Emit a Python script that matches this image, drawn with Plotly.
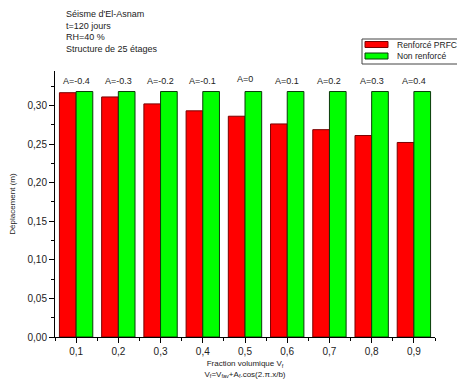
import plotly.graph_objects as go

fractions = [0.1, 0.2, 0.3, 0.4, 0.5, 0.6, 0.7, 0.8, 0.9]
renforce = [0.3165, 0.311, 0.302, 0.293, 0.286, 0.276, 0.2686, 0.261, 0.252]
non_renforce = [0.318, 0.318, 0.318, 0.318, 0.318, 0.318, 0.318, 0.318, 0.318]
a_labels = ["A=-0.4", "A=-0.3", "A=-0.2", "A=-0.1", "A=0", "A=0.1", "A=0.2", "A=0.3", "A=0.4"]
x_ticks = ["0,1", "0,2", "0,3", "0,4", "0,5", "0,6", "0,7", "0,8", "0,9"]
y_ticks = [0.0, 0.05, 0.10, 0.15, 0.20, 0.25, 0.30]
y_labels = ["0,00", "0,05", "0,10", "0,15", "0,20", "0,25", "0,30"]
series_names = ["Renforcé PRFC", "Non renforcé"]
series_colors = ["#FF0000", "#00FF00"]
series_edges = ["#7a0000", "#0a3a0a"]

FONT = "Liberation Sans, Arial, sans-serif"
OFF = 8  # page body margin
W, H = 465 - OFF, 386 - OFF
# plot area in window pixels: x 55..435, y 71..337
ML, MR, MT, MB = 55 - OFF, 465 - 435, 71 - OFF, 386 - 337
PW, PH = W - ML - MR, H - MT - MB


def px(xw):
    return (xw - OFF - ML) / PW


def py(yw):
    return (H - MB - (yw - OFF)) / PH


fig = go.Figure()
for name, vals, col, edge in zip(series_names, [renforce, non_renforce], series_colors, series_edges):
    fig.add_trace(go.Bar(x=fractions, y=vals, name=name, showlegend=False,
                         marker=dict(color=col, line=dict(color=edge, width=1))))

for xv, lab in zip(fractions, a_labels):
    yv = 0.3337 if lab == "A=0" else 0.3316
    fig.add_annotation(x=xv, y=yv, text=lab, showarrow=False, xref="x", yref="y",
                       font=dict(size=9, color="#222", family=FONT), yanchor="middle")

fig.add_annotation(x=px(64), y=py(7), xref="paper", yref="paper", showarrow=False,
                   xanchor="left", yanchor="top", align="left",
                   text="Séisme d'El-Asnam<br>t=120 jours<br>RH=40 %<br>Structure de 25 étages",
                   font=dict(size=9, color="#222", family=FONT))

# manual legend
shapes = [dict(type="rect", xref="paper", yref="paper", x0=px(362), x1=px(461), y0=py(64), y1=py(39),
               line=dict(color="#444", width=1), fillcolor="white", layer="above")]
for i, (name, col, edge) in enumerate(zip(series_names, series_colors, series_edges)):
    yc = 44.5 + 11.5 * i
    shapes.append(dict(type="rect", xref="paper", yref="paper", x0=px(365), x1=px(388),
                       y0=py(yc + 3), y1=py(yc - 3), fillcolor=col,
                       line=dict(color=edge, width=1), layer="above"))
    fig.add_annotation(x=px(395), y=py(yc), xref="paper", yref="paper", showarrow=False,
                       xanchor="left", yanchor="middle", text=name,
                       font=dict(size=8.5, color="#222", family=FONT))

fig.update_layout(
    width=W, height=H,
    margin=dict(l=ML, r=MR, t=MT, b=MB),
    paper_bgcolor="white", plot_bgcolor="white",
    barmode="group", bargap=0.21, bargroupgap=0,
    showlegend=False,
    shapes=shapes,
    font=dict(family=FONT, color="#222"),
    xaxis=dict(range=[0.05, 0.95], tickvals=fractions, ticktext=x_ticks, automargin=False,
               showline=True, linecolor="black", linewidth=1, ticks="outside",
               ticklen=5, tickcolor="black", showgrid=False, zeroline=False,
               tickfont=dict(size=10, color="#222"),
               minor=dict(tickvals=[0.05, 0.15, 0.25, 0.35, 0.45, 0.55, 0.65, 0.75, 0.85, 0.95],
                          ticks="outside", ticklen=3, tickcolor="black"),
               title=dict(text="Fraction volumique V<sub>f</sub><br>V<sub>f</sub>=V<sub>fav</sub>+A<sub>f</sub>.cos(2.π.x/b)",
                          font=dict(size=8, color="#222"), standoff=4)),
    yaxis=dict(range=[0, 0.3446], tickvals=y_ticks, ticktext=y_labels, automargin=False,
               showline=True, linecolor="black", linewidth=1, ticks="outside",
               ticklen=5, tickcolor="black", showgrid=False, zeroline=False,
               tickfont=dict(size=10, color="#222"),
               minor=dict(dtick=0.025, ticks="outside", ticklen=3, tickcolor="black"),
               title=dict(text="Déplacement (m)", font=dict(size=8, color="#222"), standoff=16)),
)

fig.write_html("out.html")
